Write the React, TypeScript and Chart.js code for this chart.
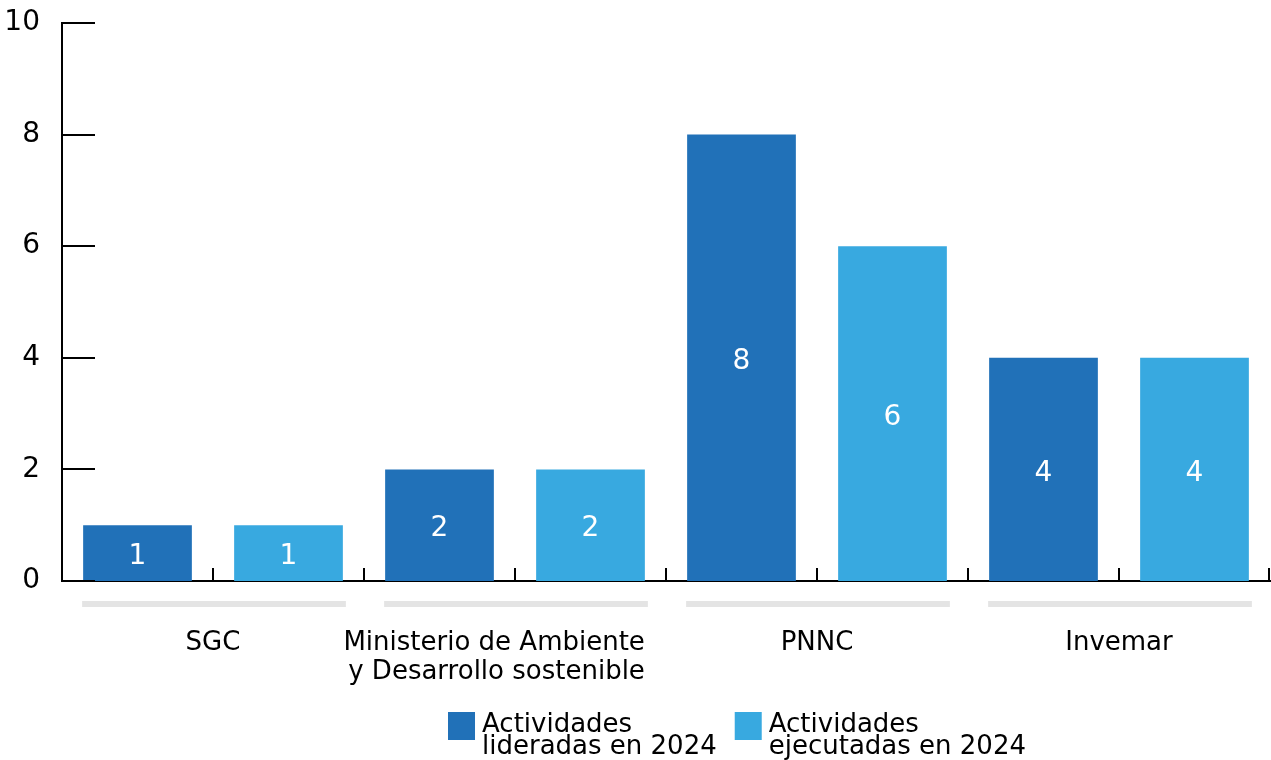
import React, { useEffect, useRef } from "react";
import { Chart, registerables } from "chart.js";

Chart.register(...registerables);

const groups: string[][] = [
  ["SGC"],
  ["Ministerio de Ambiente", "y Desarrollo sostenible"],
  ["PNNC"],
  ["Invemar"],
];
const lideradas: number[] = [1, 2, 8, 4];
const ejecutadas: number[] = [1, 2, 6, 4];
const seriesNames: string[][] = [
  ["Actividades", "lideradas en 2024"],
  ["Actividades", "ejecutadas en 2024"],
];
const yTicks: number[] = [0, 2, 4, 6, 8, 10];

const DARK = "#2171b8";
const LIGHT = "#38a9e0";
const FONT = "'DejaVu Sans', sans-serif";

export default function App() {
  const ref = useRef<HTMLCanvasElement | null>(null);

  useEffect(() => {
    if (!ref.current) return;
    const slots: string[] = [];
    const d1: (number | null)[] = [];
    const d2: (number | null)[] = [];
    groups.forEach((g, i) => {
      slots.push(g.join(" ") + " a");
      slots.push(g.join(" ") + " b");
      d1.push(lideradas[i], null);
      d2.push(null, ejecutadas[i]);
    });

    const decor = {
      id: "decor",
      afterDatasetsDraw(chart: any) {
        const ctx = chart.ctx;
        const xs = chart.scales.x;
        const ys = chart.scales.y;
        const area = chart.chartArea;
        ctx.save();
        // data labels
        ctx.fillStyle = "#ffffff";
        ctx.font = `28px ${FONT}`;
        ctx.textAlign = "center";
        ctx.textBaseline = "middle";
        chart.data.datasets.forEach((ds: any, di: number) => {
          const meta = chart.getDatasetMeta(di);
          meta.data.forEach((el: any, i: number) => {
            const v = ds.data[i];
            if (v === null || v === undefined) return;
            ctx.fillText(String(v), el.x, (el.y + el.base) / 2 + 4);
          });
        });
        // y tick marks (inside)
        ctx.strokeStyle = "#000";
        ctx.lineWidth = 2;
        yTicks.forEach((t) => {
          const y = Math.round(ys.getPixelForValue(t));
          ctx.beginPath();
          ctx.moveTo(area.left, y);
          ctx.lineTo(area.left + 33, y);
          ctx.stroke();
        });
        // x tick marks between slots
        const n = slots.length;
        for (let i = 0; i < n; i++) {
          const x =
            i < n - 1
              ? (xs.getPixelForValue(i) + xs.getPixelForValue(i + 1)) / 2
              : area.right - 1;
          ctx.beginPath();
          ctx.moveTo(Math.round(x), area.bottom);
          ctx.lineTo(Math.round(x), area.bottom - 13);
          ctx.stroke();
        }
        // group bars and labels
        const m0 = chart.getDatasetMeta(0);
        const m1 = chart.getDatasetMeta(1);
        groups.forEach((g, gi) => {
          const e0 = m0.data[gi * 2];
          const e1 = m1.data[gi * 2 + 1];
          const left = e0.x - e0.width / 2 - 1;
          const right = e1.x + e1.width / 2 + 3;
          ctx.fillStyle = "#e4e4e4";
          ctx.fillRect(left, area.bottom + 20, right - left, 6);
          ctx.fillStyle = "#000";
          ctx.font = `26px ${FONT}`;
          ctx.textBaseline = "alphabetic";
          if (g.length === 1) {
            ctx.textAlign = "center";
            const cx = (xs.getPixelForValue(gi * 2) + xs.getPixelForValue(gi * 2 + 1)) / 2;
            ctx.fillText(g[0], cx, area.bottom + 69);
          } else {
            ctx.textAlign = "right";
            g.forEach((line, li) => {
              ctx.fillText(line, right - 3, area.bottom + 69 + li * 29);
            });
          }
        });
        // legend
        const colors = [DARK, LIGHT];
        ctx.font = `26px ${FONT}`;
        ctx.textAlign = "left";
        const widths = seriesNames.map((s) =>
          Math.max(...s.map((t) => ctx.measureText(t).width))
        );
        const boxW = 27;
        const gapBox = 7;
        const gapItem = 18;
        const total = widths.reduce((a, w) => a + boxW + gapBox + w, 0) + gapItem;
        let x = 737 - total / 2;
        const top = area.bottom + 131;
        seriesNames.forEach((s, si) => {
          ctx.fillStyle = colors[si];
          ctx.fillRect(x, top, boxW, 28);
          ctx.fillStyle = "#000";
          s.forEach((t, li) => {
            ctx.fillText(t, x + boxW + gapBox, top + 20 + li * 22);
          });
          x += boxW + gapBox + widths[si] + gapItem;
        });
        ctx.restore();
      },
    };

    const chart = new Chart(ref.current, {
      type: "bar",
      data: {
        labels: slots,
        datasets: [
          { label: seriesNames[0].join(" "), data: d1, backgroundColor: DARK },
          { label: seriesNames[1].join(" "), data: d2, backgroundColor: LIGHT },
        ],
      },
      options: {
        animation: false,
        responsive: false,
        layout: { padding: { top: 0, right: 1, bottom: 179, left: 0 } },
        datasets: {
          bar: { categoryPercentage: 1, barPercentage: 0.72 },
        },
        plugins: { legend: { display: false }, tooltip: { enabled: false } },
        scales: {
          x: {
            stacked: true,
            ticks: { display: false },
            grid: { display: false, drawTicks: false },
            border: { display: true, color: "#000", width: 2 },
            afterFit: (s: any) => {
              s.height = 0;
            },
          },
          y: {
            stacked: true,
            min: 0,
            max: 10,
            afterBuildTicks: (s: any) => {
              s.ticks = yTicks.map((v) => ({ value: v }));
            },
            ticks: {
              color: "#000",
              padding: 22,
              font: { family: FONT, size: 28 },
            },
            grid: { display: false, drawTicks: false },
            border: { display: true, color: "#000", width: 2 },
            afterFit: (s: any) => {
              s.width = 62;
              s.paddingTop = 23;
              s.paddingBottom = 0;
            },
          },
        },
      },
      plugins: [decor],
    });
    return () => chart.destroy();
  }, []);

  return (
    <div style={{ position: "fixed", left: 0, top: 0, width: 1271, height: 760, background: "#fff" }}>
      <canvas ref={ref} width={1271} height={760} style={{ display: "block" }} />
    </div>
  );
}
